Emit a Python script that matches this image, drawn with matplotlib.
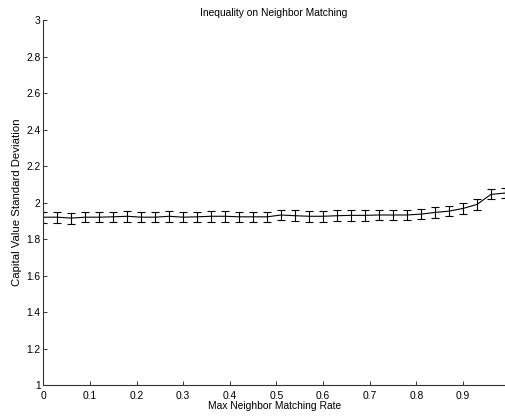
import numpy as np
import matplotlib
matplotlib.use('Agg')
import matplotlib.pyplot as plt

plt.rcParams['font.family'] = ['Liberation Sans', 'DejaVu Sans']

# max neighbor matching rate
rate = [0.00, 0.03, 0.06, 0.09, 0.12, 0.15, 0.18, 0.21, 0.24, 0.27,
        0.30, 0.33, 0.36, 0.39, 0.42, 0.45, 0.48, 0.51, 0.54, 0.57,
        0.60, 0.63, 0.66, 0.69, 0.72, 0.75, 0.78, 0.81, 0.84, 0.87,
        0.90, 0.93, 0.96, 0.99]
# capital value std dev (mean) and error
mean_sd = [1.920, 1.920, 1.915, 1.920, 1.920, 1.922, 1.925, 1.920, 1.920, 1.925,
           1.920, 1.922, 1.925, 1.925, 1.922, 1.922, 1.922, 1.932, 1.928, 1.925,
           1.925, 1.928, 1.930, 1.930, 1.932, 1.932, 1.932, 1.937, 1.946, 1.953,
           1.968, 1.990, 2.045, 2.052]
err_sd = [0.030, 0.030, 0.030, 0.029, 0.029, 0.029, 0.030, 0.029, 0.029, 0.029,
          0.029, 0.029, 0.029, 0.029, 0.029, 0.029, 0.029, 0.030, 0.029, 0.029,
          0.029, 0.029, 0.029, 0.029, 0.029, 0.029, 0.029, 0.029, 0.029, 0.029,
          0.029, 0.030, 0.027, 0.027]

xticks = [0, 0.1, 0.2, 0.3, 0.4, 0.5, 0.6, 0.7, 0.8, 0.9]
xticklabels = ['0', '0.1', '0.2', '0.3', '0.4', '0.5', '0.6', '0.7', '0.8', '0.9']
yticks = [1, 1.2, 1.4, 1.6, 1.8, 2, 2.2, 2.4, 2.6, 2.8, 3]
yticklabels = ['1', '1.2', '1.4', '1.6', '1.8', '2', '2.2', '2.4', '2.6', '2.8', '3']

fig = plt.figure(figsize=(5.05, 4.19), dpi=100)
ax = fig.add_axes([0.0857, 0.081, 0.9143, 0.871])

ax.errorbar(rate, mean_sd, yerr=err_sd, color='black', lw=0.8,
            elinewidth=0.8, capsize=2.6, capthick=0.8)

ax.set_xlim(0, 0.99)
ax.set_ylim(1, 3)
ax.set_xticks(xticks)
ax.set_xticklabels(xticklabels)
ax.set_yticks(yticks)
ax.set_yticklabels(yticklabels)

for s in ['top', 'right']:
    ax.spines[s].set_visible(False)
for s in ['left', 'bottom']:
    ax.spines[s].set_linewidth(0.8)
    ax.spines[s].set_color('#333333')

ax.tick_params(direction='in', length=3, width=0.7, labelsize=7.4, colors='#333333',
               labelcolor='black')
ax.tick_params(axis='x', pad=4)
ax.tick_params(axis='y', pad=2)

ax.set_xlabel('Max Neighbor Matching Rate', fontsize=7.4, labelpad=0)
ax.set_ylabel('Capital Value Standard Deviation', fontsize=8.2, labelpad=3)
ax.set_title('Inequality on Neighbor Matching', fontsize=7.4, pad=3)

fig.savefig('out.png', dpi=100)
